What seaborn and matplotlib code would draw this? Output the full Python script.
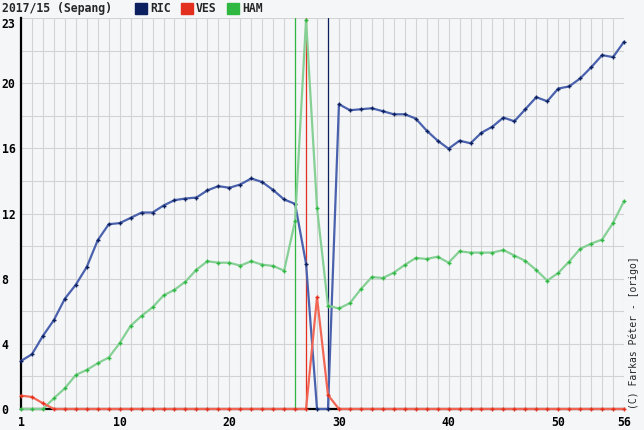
import matplotlib
matplotlib.use("Agg")
import matplotlib.pyplot as plt
import seaborn as sns
from matplotlib.patches import Rectangle

# --- Data (gap to leader per lap) ---
TITLE = "2017/15 (Sepang)"
LAPS = list(range(1, 57))
X_TICKS = [1, 10, 20, 30, 40, 50, 56]
Y_TICKS = [0, 4, 8, 12, 16, 20, 24]
Y_LABELS = ["0", "4", "8", "12", "16", "20", "23"]

RIC = [2.95, 3.36, 4.49, 5.46, 6.77, 7.63, 8.72, 10.36, 11.34, 11.41,
       11.73, 12.06, 12.06, 12.49, 12.82, 12.92, 12.98, 13.42, 13.68, 13.58,
       13.78, 14.15, 13.93, 13.44, 12.86, 12.59, 8.92, 0.0, 0.0, 18.71,
       18.34, 18.40, 18.46, 18.28, 18.09, 18.09, 17.83, 17.09, 16.47, 15.98,
       16.47, 16.31, 16.96, 17.33, 17.89, 17.66, 18.40, 19.14, 18.89, 19.67,
       19.80, 20.29, 20.97, 21.72, 21.60, 22.54]
VES = [0.82, 0.74, 0.35, 0.0, 0.0, 0.0, 0.0, 0.0, 0.0, 0.0,
       0.0, 0.0, 0.0, 0.0, 0.0, 0.0, 0.0, 0.0, 0.0, 0.0,
       0.0, 0.0, 0.0, 0.0, 0.0, 0.0, 0.0, 6.85, 0.86, 0.0,
       0.0, 0.0, 0.0, 0.0, 0.0, 0.0, 0.0, 0.0, 0.0, 0.0,
       0.0, 0.0, 0.0, 0.0, 0.0, 0.0, 0.0, 0.0, 0.0, 0.0,
       0.0, 0.0, 0.0, 0.0, 0.0, 0.0]
HAM = [0.0, 0.0, 0.0, 0.66, 1.27, 2.09, 2.40, 2.81, 3.16, 4.04,
       5.11, 5.72, 6.24, 6.97, 7.32, 7.82, 8.55, 9.07, 8.98, 8.98,
       8.80, 9.07, 8.86, 8.78, 8.49, 11.55, 23.9, 12.35, 6.34, 6.17,
       6.50, 7.36, 8.10, 8.04, 8.37, 8.84, 9.27, 9.21, 9.35, 8.98,
       9.68, 9.60, 9.60, 9.60, 9.76, 9.42, 9.09, 8.53, 7.88, 8.35,
       9.05, 9.83, 10.15, 10.40, 11.42, 12.76]

DRIVERS = ["RIC", "VES", "HAM"]
SERIES = {"RIC": RIC, "VES": VES, "HAM": HAM}
PIT_LAPS = {"HAM": 26, "VES": 27, "RIC": 29}

# --- Styles ---
BG = "#f5f6f8"
KEY_COLORS = {"RIC": "#0c1f5e", "VES": "#e3301e", "HAM": "#2fb841"}
LINE_COLORS = {"RIC": "#4a62ad", "VES": "#f26655", "HAM": "#86d096"}

sns.set_theme(style="white")
plt.rcParams['font.family'] = ['DejaVu Sans Mono', 'DejaVu Sans']

fig = plt.figure(figsize=(6.44, 4.30), dpi=100, facecolor=BG)
ax = fig.add_axes([21 / 644, 1 - 409 / 430, 603 / 644, 391 / 430])
ax.set_facecolor(BG)

# pit stop markers
for d in DRIVERS:
    ax.axvline(PIT_LAPS[d], color=KEY_COLORS[d], lw=0.9, zorder=3)

# gap lines
for d in ["RIC", "HAM", "VES"]:
    sns.lineplot(x=LAPS, y=SERIES[d], ax=ax, color=LINE_COLORS[d], lw=1.6,
                 marker="+", ms=3.5, mec=KEY_COLORS[d], mew=1.0,
                 clip_on=False, zorder=4, legend=False)

ax.set_xlim(1, 56)
ax.set_ylim(0, 24)
ax.set_xticks(X_TICKS)
ax.set_xticks(LAPS, minor=True)
ax.set_yticks(Y_TICKS)
ax.set_yticklabels(Y_LABELS)
ax.set_yticks(range(0, 25, 2), minor=True)
ax.grid(which="both", color="#d3d3d3", lw=0.8)
ax.set_axisbelow(True)
ax.set_xlabel("")
ax.set_ylabel("")

ax.tick_params(which="both", length=0)
ax.tick_params(axis="y", pad=14)
ax.tick_params(axis="x", pad=5)
for lbl in ax.get_yticklabels():
    lbl.set_ha("left")
ax.get_yticklabels()[-1].set_va("top")
for lbl in ax.get_xticklabels() + ax.get_yticklabels():
    lbl.set_fontsize(8.3)
    lbl.set_fontweight("bold")
    lbl.set_color("black")

for side in ["top", "right"]:
    ax.spines[side].set_visible(False)
for side in ["left", "bottom"]:
    ax.spines[side].set_color("black")
    ax.spines[side].set_linewidth(1.6)

# title and key
fig.text(2 / 644, 1 - 8.5 / 430, TITLE, fontsize=8.3, fontweight="bold",
         va="center", ha="left")
key_x = {"RIC": 135, "VES": 181, "HAM": 227}
for d in DRIVERS:
    fig.patches.append(Rectangle((key_x[d] / 644, 1 - 14 / 430), 12 / 644, 11 / 430,
                                 transform=fig.transFigure, color=KEY_COLORS[d]))
    fig.text((key_x[d] + 15) / 644, 1 - 8.5 / 430, d, fontsize=8.3,
             fontweight="bold", va="center", ha="left")

fig.text(634 / 644, 1 - 409 / 430, "(C) Farkas Péter - [origo]", rotation=90,
         ha="center", va="bottom", fontsize=7)

fig.savefig("out.png", dpi=100, facecolor=BG)
